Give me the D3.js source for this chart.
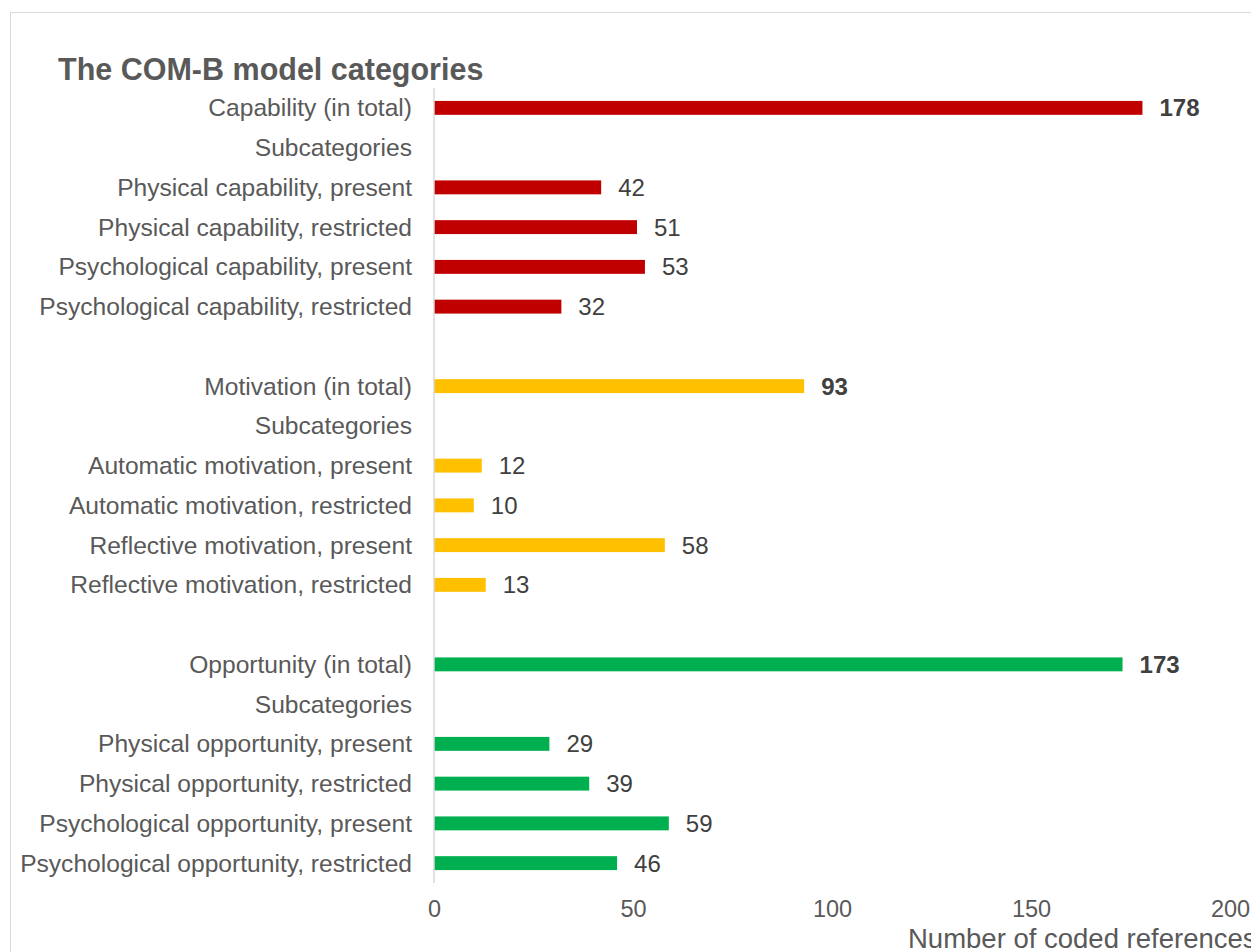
<!DOCTYPE html>
<html>
<head>
<meta charset="utf-8">
<script src="https://cdn.jsdelivr.net/npm/d3@7"></script>
<style>
    body { margin: 0; background: #ffffff; }
    svg { display: block; }
    text { font-family: "Liberation Sans", Arial, sans-serif; fill: #595959; }
</style>
</head>
<body>
<div id="chart"></div>
<script>
// Rows top to bottom; empty label = spacer row
const categories = [
    'Capability (in total)', 'Subcategories',
    'Physical capability, present', 'Physical capability, restricted',
    'Psychological capability, present', 'Psychological capability, restricted',
    '',
    'Motivation (in total)', 'Subcategories',
    'Automatic motivation, present', 'Automatic motivation, restricted',
    'Reflective motivation, present', 'Reflective motivation, restricted',
    '',
    'Opportunity (in total)', 'Subcategories',
    'Physical opportunity, present', 'Physical opportunity, restricted',
    'Psychological opportunity, present', 'Psychological opportunity, restricted'
];
const values = [178, null, 42, 51, 53, 32, null, 93, null, 12, 10, 58, 13, null, 173, null, 29, 39, 59, 46];
const groups = ['C', 'C', 'C', 'C', 'C', 'C', null, 'M', 'M', 'M', 'M', 'M', 'M', null, 'O', 'O', 'O', 'O', 'O', 'O'];
const totals = ['Capability (in total)', 'Motivation (in total)', 'Opportunity (in total)'];
const groupColors = { C: '#C00000', M: '#FFC000', O: '#00B050' };
const xTicks = [0, 50, 100, 150, 200];

const width = 1251;
const height = 952;

const svg = d3.select('#chart')
    .append('svg')
    .attr('width', width)
    .attr('height', height);

// chart frame
svg.append('rect')
    .attr('x', 10.5)
    .attr('y', 12.5)
    .attr('width', 1260)
    .attr('height', 960)
    .attr('fill', 'none')
    .attr('stroke', '#d9d9d9');

const x = d3.scaleLinear().domain([0, 200]).range([434, 1230]);
// rows keyed by index because labels repeat
const y = d3.scaleBand()
    .domain(d3.range(categories.length))
    .range([88, 883])
    .paddingInner(0.65)
    .paddingOuter(0.325);

const rows = categories.map((c, i) => ({ i, label: c, value: values[i], group: groups[i] }));
const mid = (d) => y(d.i) + y.bandwidth() / 2;

// bars
svg.append('g')
    .selectAll('rect')
    .data(rows.filter((d) => d.value !== null))
    .enter()
    .append('rect')
    .attr('x', x(0))
    .attr('y', (d) => y(d.i))
    .attr('width', (d) => x(d.value) - x(0))
    .attr('height', y.bandwidth())
    .attr('fill', (d) => groupColors[d.group]);

// vertical axis line
svg.append('line')
    .attr('x1', x(0))
    .attr('x2', x(0))
    .attr('y1', 88)
    .attr('y2', 883)
    .attr('stroke', '#d9d9d9')
    .attr('stroke-width', 1.5);

// category labels
svg.append('g')
    .selectAll('text')
    .data(rows.filter((d) => d.label !== ''))
    .enter()
    .append('text')
    .attr('x', 412)
    .attr('y', mid)
    .attr('dy', '0.35em')
    .attr('text-anchor', 'end')
    .style('font-size', '24.6px')
    .text((d) => d.label);

// value labels
svg.append('g')
    .selectAll('text')
    .data(rows.filter((d) => d.value !== null))
    .enter()
    .append('text')
    .attr('x', (d) => x(d.value) + 17)
    .attr('y', mid)
    .attr('dy', '0.35em')
    .style('font-size', '24px')
    .style('font-weight', (d) => totals.includes(d.label) ? 'bold' : 'normal')
    .style('fill', '#404040')
    .text((d) => d.value);

// x axis tick labels
const xAxis = d3.axisBottom(x).tickValues(xTicks).tickSize(0).tickPadding(0);
const axisG = svg.append('g')
    .attr('transform', 'translate(0, 900)')
    .call(xAxis);
axisG.select('.domain').remove();
axisG.selectAll('text')
    .attr('dy', '0.71em')
    .style('font-family', '"Liberation Sans", Arial, sans-serif')
    .style('font-size', '23.5px')
    .style('fill', '#595959');

// axis title
svg.append('text')
    .attr('x', 908)
    .attr('y', 948)
    .style('font-size', '27.5px')
    .text('Number of coded references');

// chart title
svg.append('text')
    .attr('x', 58)
    .attr('y', 80)
    .style('font-size', '30.5px')
    .style('font-weight', 'bold')
    .text('The COM-B model categories');
</script>
</body>
</html>
